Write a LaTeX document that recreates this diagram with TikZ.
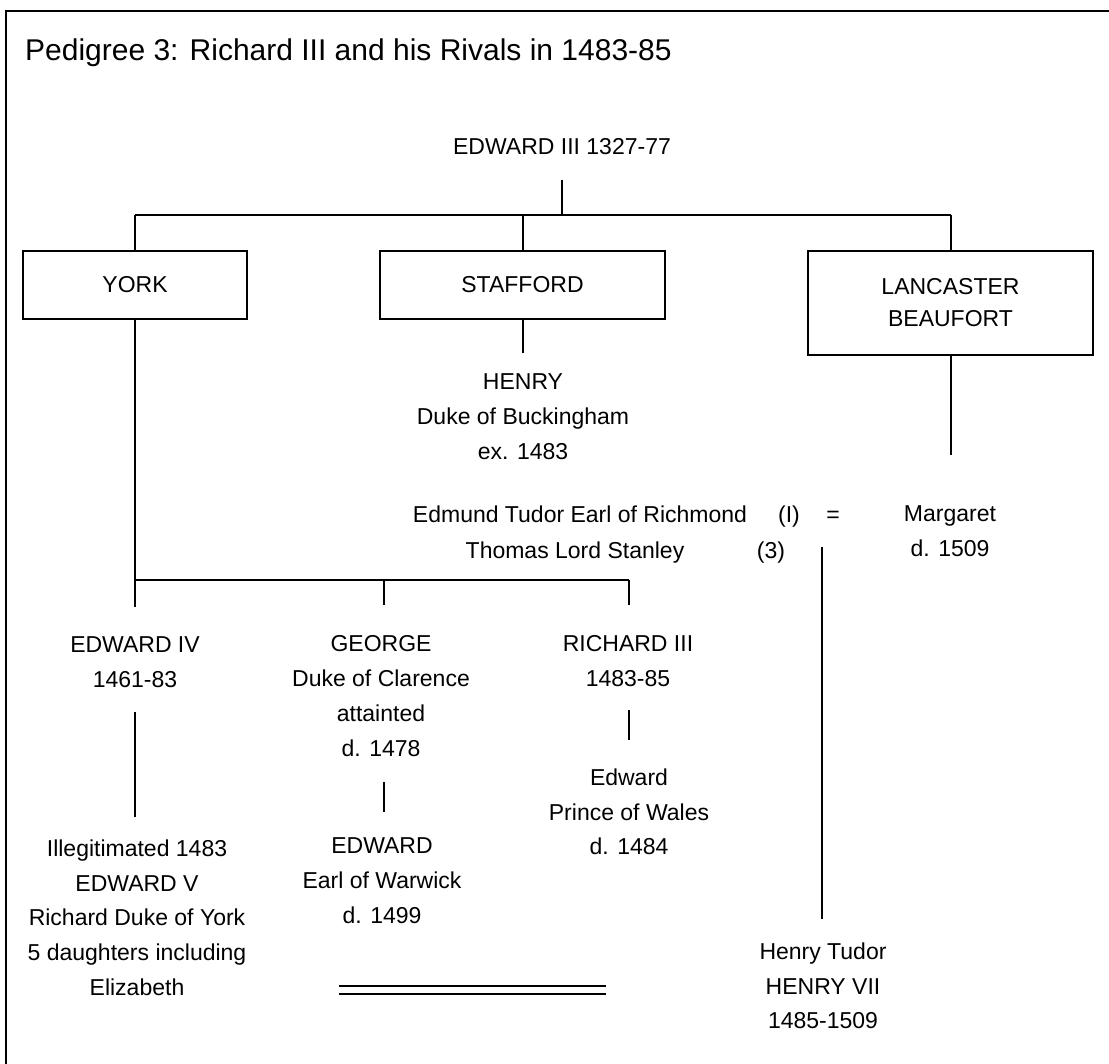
\documentclass[tikz,border=0pt]{standalone}
\usepackage{fontspec}
\setmainfont{Liberation Sans}
\begin{document}
\begin{tikzpicture}[x=1pt,y=-1pt,
  txt/.style={inner sep=0pt, align=center, font=\fontsize{23}{34.8}\selectfont},
  ttl/.style={inner sep=0pt, font=\fontsize{30}{36}\selectfont},
  housebox/.style={draw, line width=2.5pt, inner sep=0pt, align=center,
     font=\fontsize{23}{32}\selectfont},
  conn/.style={line width=2pt},
  frameline/.style={line width=2.5pt}]
\useasboundingbox (0,0) rectangle (1109,1064);
% frame
\coordinate (ftl) at (6,11);
\coordinate (ftr) at (1109,11);
\coordinate (fbl) at (6,1064);
\draw[frameline] (fbl) -- (ftl) -- (ftr);
% title
\node[ttl, anchor=base west] (title) at (25,61) {Pedigree 3: Richard III and his Rivals in 1483-85};
% top
\node[txt, anchor=base] (e3) at (562,155) {EDWARD III 1327-77};
\node[housebox, minimum width=224pt, minimum height=68pt] (york) at (135,285) {YORK};
\node[housebox, minimum width=285pt, minimum height=68pt] (staff) at (522.5,285) {STAFFORD};
\node[housebox, minimum width=285pt, minimum height=104pt] (lanc) at (950.5,303) {LANCASTER\\BEAUFORT};
% Henry, Edmund, Thomas, Margaret
\node[txt, anchor=north] (hen) at (523,373.5) {HENRY\\Duke of Buckingham\\ex. 1483};
\node[txt, anchor=base] (edm) at (580,522) {Edmund Tudor Earl of Richmond};
\node[txt, anchor=base] (edmn) at (789,522) {(I)};
\node[txt, anchor=base] (eq) at (833,522) {=};
\node[txt, anchor=base] (tho) at (575,558) {Thomas Lord Stanley};
\node[txt, anchor=base] (thon) at (771,558) {(3)};
\node[txt, anchor=north] (mar) at (950,505.5) {Margaret\\d. 1509};
% York children
\node[txt, anchor=north] (e4) at (135,636.5) {EDWARD IV\\1461-83};
\node[txt, anchor=north] (geo) at (381,635.5) {GEORGE\\Duke of Clarence\\attainted\\d. 1478};
\node[txt, anchor=north] (ric) at (628,635.5) {RICHARD III\\1483-85};
\node[txt, anchor=north] (edw) at (629,768.5) {Edward\\Prince of Wales\\d. 1484};
\node[txt, anchor=north] (ill) at (137,839.5) {Illegitimated 1483\\EDWARD V\\Richard Duke of York\\5 daughters including\\Elizabeth};
\node[txt, anchor=north] (war) at (382,837.5) {EDWARD\\Earl of Warwick\\d. 1499};
\node[txt, anchor=north] (ht) at (823,942.5) {Henry Tudor\\HENRY VII\\1485-1509};
% coordinates for connectors
\coordinate (e3s) at (562,180);
\coordinate (b1c) at (562,215);
\coordinate (b1l) at (135,215);
\coordinate (b1m) at (522.5,215);
\coordinate (b1r) at (950.5,215);
\coordinate (stafd) at (522.5,353);
\coordinate (lancd) at (950.5,455);
\coordinate (b2l) at (135,580);
\coordinate (b2m) at (384,580);
\coordinate (b2r) at (629,580);
\coordinate (e4t) at (135,607);
\coordinate (geot) at (384,605);
\coordinate (rict) at (629,605);
\coordinate (e4a) at (135,712);
\coordinate (e4b) at (135,817);
\coordinate (geoa) at (384,782);
\coordinate (geob) at (384,812);
\coordinate (rica) at (629,710);
\coordinate (ricb) at (629,740);
\coordinate (hta) at (822,547);
\coordinate (htb) at (822,919);
\coordinate (dl1a) at (339,986);
\coordinate (dl1b) at (606,986);
\coordinate (dl2a) at (339,994);
\coordinate (dl2b) at (606,994);
% connectors
\draw[conn] (e3s) -- (b1c);
\draw[conn] (b1l) -- (b1r);
\draw[conn] (b1l) -- (york.north);
\draw[conn] (b1m) -- (staff.north);
\draw[conn] (b1r) -- (lanc.north);
\draw[conn] (staff.south) -- (stafd);
\draw[conn] (lanc.south) -- (lancd);
\draw[conn] (york.south) -- (b2l);
\draw[conn] (b2l) -- (b2r);
\draw[conn] (b2l) -- (e4t);
\draw[conn] (b2m) -- (geot);
\draw[conn] (b2r) -- (rict);
\draw[conn] (e4a) -- (e4b);
\draw[conn] (geoa) -- (geob);
\draw[conn] (rica) -- (ricb);
\draw[conn] (hta) -- (htb);
\draw[conn] (dl1a) -- (dl1b);
\draw[conn] (dl2a) -- (dl2b);
\end{tikzpicture}
\end{document}
